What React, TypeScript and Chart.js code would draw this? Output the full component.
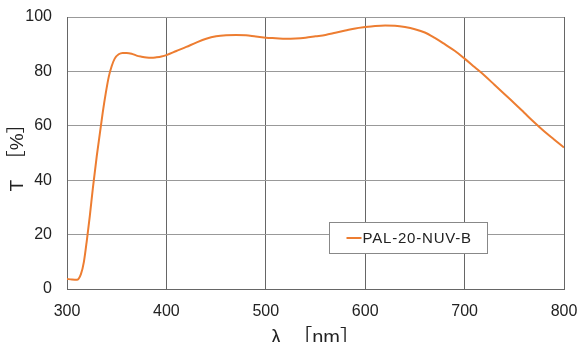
import React, { useEffect, useRef } from "react";
import { Chart, registerables } from "chart.js";

Chart.register(...registerables);

const wavelengths = [
  300, 305, 310, 314, 317, 320, 323, 326, 330, 333, 336, 339, 342, 345, 348, 352, 356, 360, 365, 370,
  375, 380, 385, 390, 395, 400, 410, 420, 430, 440, 450, 460, 470, 480, 490, 500, 510, 520, 530, 540,
  550, 560, 570, 580, 590, 600, 610, 620, 630, 640, 650, 660, 670, 680, 690, 700, 710, 720, 730, 740,
  750, 760, 770, 780, 790, 800,
];
const transmittance = [
  3.7, 3.5, 3.4, 5.5, 10, 18, 27, 37, 49, 57, 65, 72, 78, 82, 84.7, 86.3, 86.8, 86.8, 86.5, 85.8,
  85.4, 85.1, 85.0, 85.2, 85.5, 86.0, 87.5, 89.0, 90.6, 92.0, 92.9, 93.3, 93.4, 93.3, 92.8, 92.4,
  92.2, 92.0, 92.1, 92.4, 92.9, 93.4, 94.2, 95.0, 95.8, 96.3, 96.7, 96.9, 96.8, 96.3, 95.5, 94.3,
  92.3, 90.0, 87.6, 84.7, 81.6, 78.5, 75.1, 71.7, 68.3, 64.8, 61.3, 58.0, 55.0, 52.0,
];
const seriesLabel = "PAL-20-NUV-B";
const xTicks = [300, 400, 500, 600, 700, 800];
const yTicks = [0, 20, 40, 60, 80, 100];
const xTitle = "λ  ［nm］";
const yTitle = "T  ［%］";

const FONT = "'Liberation Sans', 'Noto Sans CJK JP', Arial, sans-serif";
const LINE_COLOR = "#ED7D31";

const legendBoxPlugin = {
  id: "legendBox",
  afterDatasetsDraw(chart: any) {
    const { ctx, chartArea: a } = chart;
    const w = a.right - a.left;
    const h = a.bottom - a.top;
    const x0 = Math.round(a.left + w * 0.527) + 0.5;
    const x1 = Math.round(a.left + w * 0.846) + 0.5;
    const y0 = Math.round(a.top + h * 0.754) + 0.5;
    const y1 = Math.round(a.top + h * 0.868) + 0.5;
    ctx.save();
    ctx.fillStyle = "#ffffff";
    ctx.fillRect(x0, y0, x1 - x0, y1 - y0);
    ctx.strokeStyle = "#888888";
    ctx.lineWidth = 1;
    ctx.strokeRect(x0, y0, x1 - x0, y1 - y0);
    const cy = (y0 + y1) / 2;
    ctx.strokeStyle = LINE_COLOR;
    ctx.lineWidth = 2;
    ctx.beginPath();
    ctx.moveTo(x0 + 17, cy);
    ctx.lineTo(x0 + 32, cy);
    ctx.stroke();
    ctx.fillStyle = "#222222";
    ctx.font = `15px ${FONT}`;
    (ctx as any).letterSpacing = "0.8px";
    ctx.textBaseline = "middle";
    ctx.textAlign = "left";
    ctx.fillText(chart.data.datasets[0].label, x0 + 33, cy + 0.5);
    ctx.restore();
  },
};

export default function App() {
  const ref = useRef<HTMLCanvasElement | null>(null);
  useEffect(() => {
    if (!ref.current) return;
    const chart = new Chart(ref.current, {
      type: "line",
      data: {
        datasets: [
          {
            label: seriesLabel,
            data: wavelengths.map((x, i) => ({ x, y: transmittance[i] })),
            borderColor: LINE_COLOR,
            borderWidth: 2,
            pointRadius: 0,
            tension: 0.4,
            cubicInterpolationMode: "monotone",
            fill: false,
          },
        ],
      },
      options: {
        responsive: false,
        animation: false,
        layout: { padding: { top: 17, right: 15, left: 0, bottom: 0 } },
        plugins: { legend: { display: false }, tooltip: { enabled: false } },
        scales: {
          x: {
            type: "linear",
            min: 300,
            max: 800,
            afterBuildTicks: (s: any) => {
              s.ticks = xTicks.map((v) => ({ value: v }));
            },
            afterFit: (s: any) => {
              s.height = 53;
              s.paddingLeft = 0;
              s.paddingRight = 0;
            },
            grid: { color: "#666666", lineWidth: 1, drawTicks: false },
            border: { display: true, color: "#666666" },
            ticks: { color: "#222222", font: { family: FONT, size: 16 }, padding: 13, maxRotation: 0 },
            title: {
              display: true,
              text: xTitle,
              color: "#222222",
              font: { family: FONT, size: 20, lineHeight: 0.4 },
              padding: 0,
            },
          },
          y: {
            min: 0,
            max: 100,
            afterBuildTicks: (s: any) => {
              s.ticks = yTicks.map((v) => ({ value: v }));
            },
            afterFit: (s: any) => {
              s.width = 67;
              s.paddingTop = 0;
              s.paddingBottom = 0;
            },
            grid: { color: "#999999", lineWidth: 1, drawTicks: false },
            border: { display: true, color: "#666666" },
            ticks: { color: "#222222", font: { family: FONT, size: 16 }, padding: 15 },
            title: {
              display: true,
              text: yTitle,
              color: "#222222",
              font: { family: FONT, size: 19 },
              padding: { top: 6, bottom: 0 },
            },
          },
        },
      },
      plugins: [legendBoxPlugin],
    });
    return () => chart.destroy();
  }, []);
  return (
    <div style={{ position: "fixed", left: 0, top: 0, width: 579, height: 342, background: "#fff" }}>
      <canvas ref={ref} width={579} height={342} />
    </div>
  );
}
